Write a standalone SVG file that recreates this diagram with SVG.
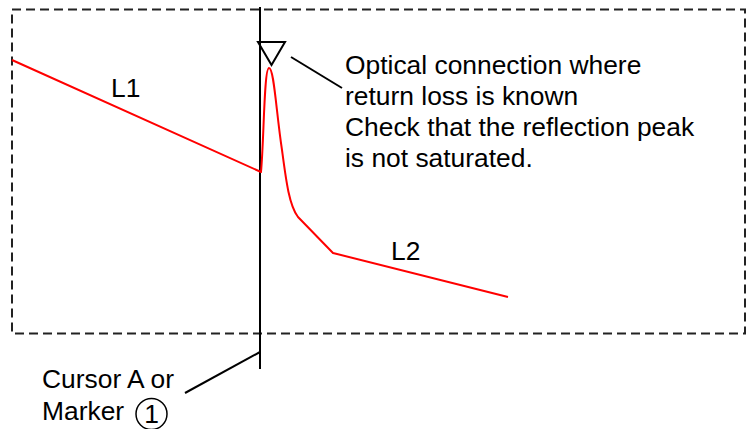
<svg xmlns="http://www.w3.org/2000/svg" width="746" height="429" viewBox="0 0 746 429">
<style>
.t{font-family:"Liberation Sans",Arial,sans-serif;font-size:26.4px;fill:#000}
.k{stroke:#000;stroke-width:2;fill:none}
.r{stroke:#f00;stroke-width:2;fill:none;stroke-linejoin:round}
</style>
<rect width="746" height="429" fill="#fff"/>
<rect id="frame" x="12" y="9.5" width="733" height="324" fill="none" stroke="#222" stroke-width="2" stroke-dasharray="9 5"/>
<g id="connectors">
<line class="k" x1="260" y1="7" x2="260" y2="369"/>
<line class="k" x1="291" y1="57" x2="342" y2="88"/>
<line class="k" x1="185" y1="393" x2="260" y2="352"/>
</g>
<g id="trace">
<path class="r" d="M12,60 L261,172 C264,140 264,68 269,68 C274,68 276,110 282,150 C286,180 289,205 298,217 L333,253 L508,297"/>
</g>
<g id="marker">
<polygon class="k" points="258,42 285,42 271.5,65"/>
</g>
<g id="labels">
<text class="t" x="111" y="97">L1</text>
<text class="t" x="391" y="260">L2</text>
<text class="t" x="345" y="73.5">Optical connection where</text>
<text class="t" x="345" y="104.8">return loss is known</text>
<text class="t" x="345" y="136.1">Check that the reflection peak</text>
<text class="t" x="345" y="167.4">is not saturated.</text>
<text class="t" x="42" y="388">Cursor A or</text>
<text class="t" x="42" y="420">Marker</text>
<circle cx="151.5" cy="414" r="15.5" fill="none" stroke="#000" stroke-width="1.5"/>
<text class="t" x="151.5" y="423" text-anchor="middle">1</text>
</g>
</svg>
